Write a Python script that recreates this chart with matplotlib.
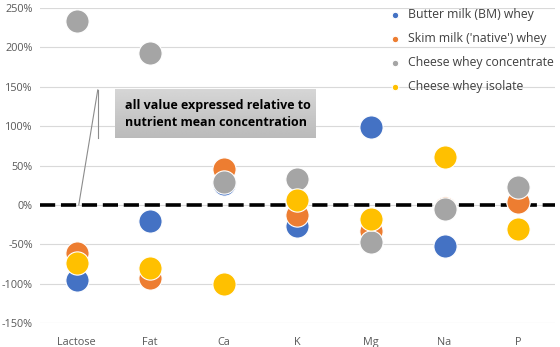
import matplotlib.pyplot as plt
import numpy as np
from matplotlib.ticker import PercentFormatter

nutrients = ['Lactose', 'Fat', 'Ca', 'K', 'Mg', 'Na', 'P']
series_names = ['Butter milk (BM) whey', "Skim milk ('native') whey",
                'Cheese whey concentrate', 'Cheese whey isolate']
bm_whey = [-95, -20, 27, -27, 99, -52, 5]
skim_whey = [-61, -93, 45, -13, -33, -4, 4]
cheese_conc = [233, 193, 29, 33, -47, -5, 23]
cheese_iso = [-74, -80, -100, 6, -18, 61, -31]
colors = ['#4472c4', '#ed7d31', '#a5a5a5', '#ffc000']

plt.rcParams['font.family'] = ['Open Sans', 'DejaVu Sans']
plt.rcParams['axes.unicode_minus'] = False

fig = plt.figure(figsize=(5.6, 3.47), dpi=100)
ax = fig.add_axes([0.071, 0.069, 0.92, 0.908])

x = np.arange(len(nutrients))
for vals, name, c in zip([bm_whey, skim_whey, cheese_conc, cheese_iso], series_names, colors):
    ax.scatter(x, np.array(vals) / 100, s=280, color=c, edgecolors='white',
               linewidths=0.8, label=name, zorder=3)

# zero reference line
ax.axhline(0, color='black', lw=2.6, dashes=(4.2, 1.6), zorder=2)

ax.set_xlim(-0.5, 6.5)
ax.set_ylim(-1.5, 2.5)
ax.set_yticks(np.arange(-1.5, 2.51, 0.5))
ax.yaxis.set_major_formatter(PercentFormatter(1.0, decimals=0))
ax.set_xticks(x)
ax.set_xticklabels(nutrients)
ax.grid(axis='y', color='#d9d9d9', lw=0.8, zorder=0)
ax.set_axisbelow(True)
for s in ax.spines.values():
    s.set_visible(False)
ax.tick_params(length=0, labelsize=7.8, colors='#595959', pad=5)
ax.tick_params(axis='x', pad=10)

# annotation box with callout
grad = np.linspace(0.84, 0.73, 50).reshape(-1, 1)
ax.imshow(grad, cmap='gray', vmin=0, vmax=1, aspect='auto',
          extent=(0.52, 3.24, 0.85, 1.46), zorder=4)
ax.text(0.66, 1.155, 'all value expressed relative to\nnutrient mean concentration',
        fontsize=9, fontweight='bold', va='center', ha='left', zorder=5, linespacing=1.4)
ax.plot([0.03, 0.288], [0.0, 1.46], color='#8c8c8c', lw=0.8, zorder=4)
ax.plot([0.288, 0.288], [1.46, 0.85], color='#8c8c8c', lw=0.8, zorder=4)

leg = ax.legend(loc='upper right', bbox_to_anchor=(1.012, 1.022), frameon=False,
                fontsize=8.8, markerscale=0.28, handletextpad=0.05,
                labelspacing=0.9, borderaxespad=0.2)
for t in leg.get_texts():
    t.set_color('#404040')

fig.savefig('out.png', dpi=100)
